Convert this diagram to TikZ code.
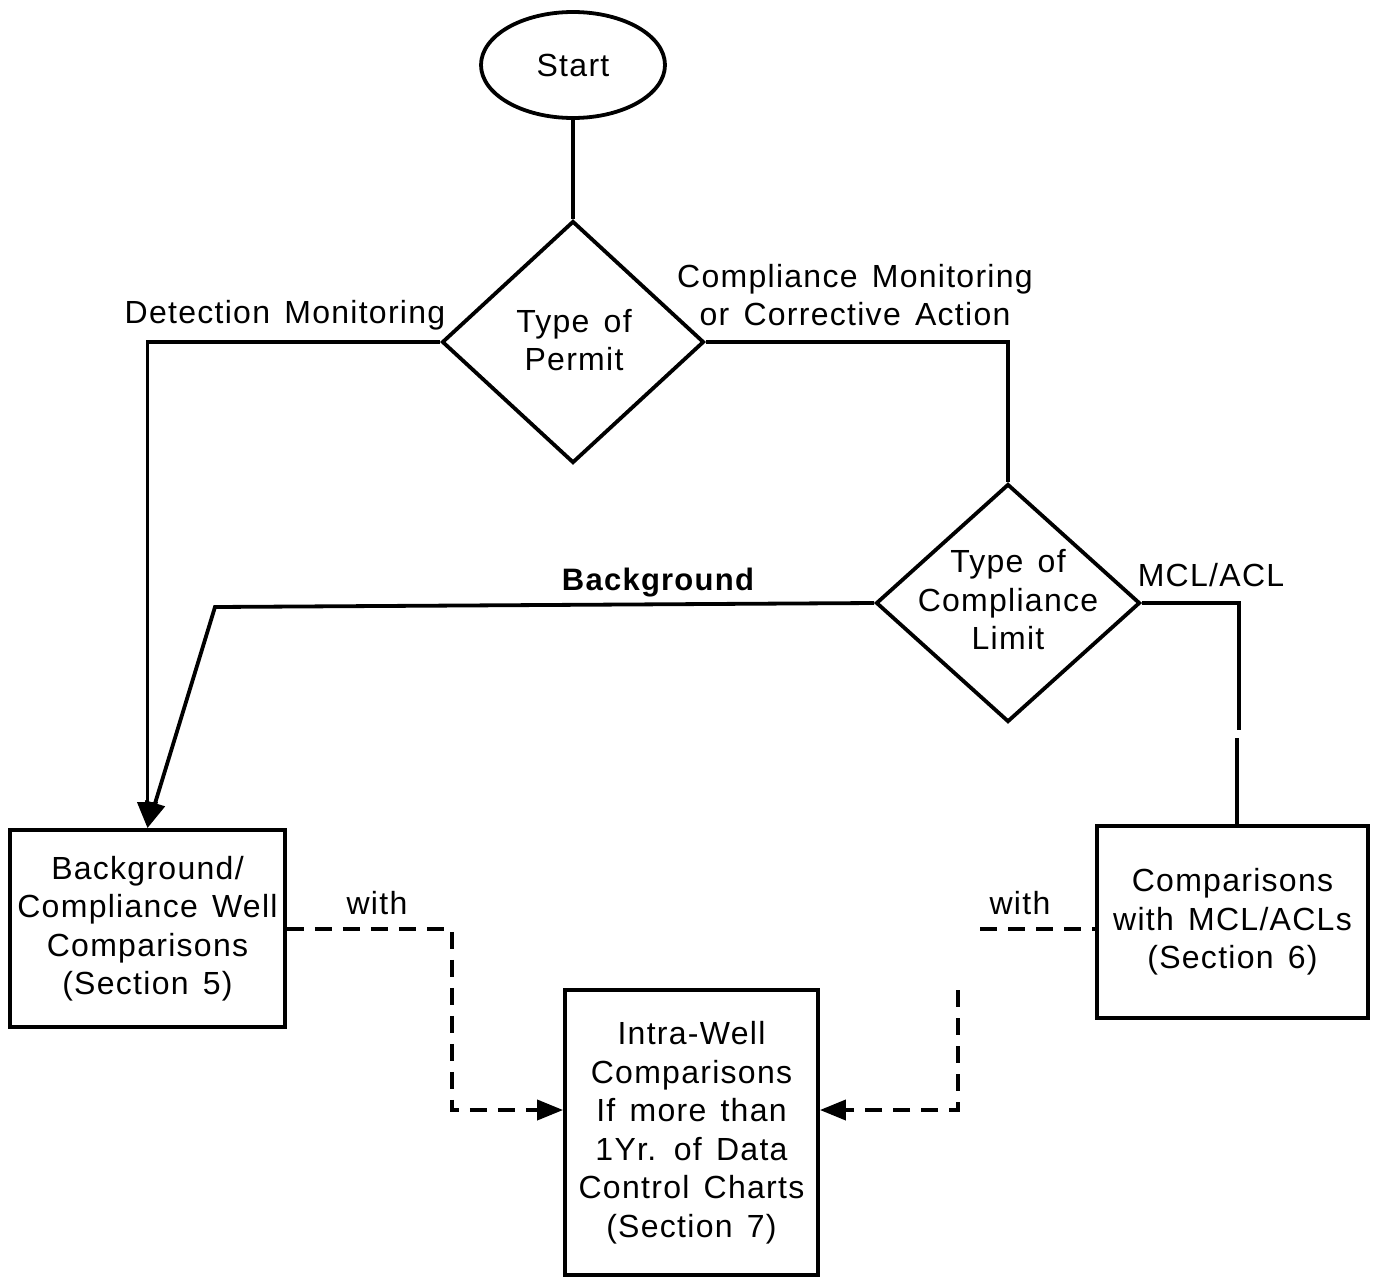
\documentclass[tikz,border=0pt]{standalone}
\usepackage{fontspec}
\setmainfont{Liberation Sans}[LetterSpace=4,WordSpace=1.4]
\usetikzlibrary{shapes.geometric,arrows.meta}
\begin{document}
\begin{tikzpicture}[x=1pt,y=-1pt,
  every node/.style={font=\fontsize{32}{38.5}\selectfont},
  ln/.style={line width=3.8pt},
  boxnode/.style={draw,line width=3.8pt,inner sep=0pt,align=center},
  diam/.style={draw,diamond,line width=3.8pt,inner sep=0pt},
  txt/.style={align=center,inner sep=0pt},
  arr/.style={-{Triangle[length=26pt,width=20pt]}},
  dsh/.style={line width=3.8pt,dash pattern=on 17pt off 11pt}]
\useasboundingbox (0,0) rectangle (1377,1277);
% nodes
\node[draw,ellipse,line width=3.8pt,minimum width=184pt,minimum height=106pt,inner sep=0pt] (start) at (573,65) {Start};
\node[diam,minimum width=262pt,minimum height=242pt] (d1) at (573,342) {};
\node[txt] (d1t) at (574,340) {Type of\\Permit};
\node[diam,minimum width=264pt,minimum height=238pt] (d2) at (1008,603) {};
\node[txt] (d2t) at (1008,600) {Type of\\Compliance\\Limit};
\node[boxnode,minimum width=275pt,minimum height=197pt] (b1) at (147.5,928.5) {Background/\\Compliance Well\\Comparisons\\(Section 5)};
\node[boxnode,minimum width=253pt,minimum height=285pt] (b2) at (691.5,1132.5) {Intra-Well\\Comparisons\\If more than\\1Yr. of Data\\Control Charts\\(Section 7)};
\node[boxnode,minimum width=271pt,minimum height=192pt] (b3) at (1232.5,922) {Comparisons\\with MCL/ACLs\\(Section 6)};
% labels
\node[txt] (l1) at (285,315) {Detection Monitoring};
\node[txt] (l2) at (855,295) {Compliance Monitoring\\or Corrective Action};
\node[txt,font=\fontsize{31}{38.5}\selectfont\bfseries] (l3) at (658,583) {Background};
\node[txt] (l4) at (1211,575) {MCL/ACL};
\node[txt] (l5) at (377,903) {with};
\node[txt] (l6) at (1020,903) {with};
% coordinates
\coordinate (bgk) at (215,607);
\coordinate (mr) at (1239,603);
\coordinate (gapA) at (1239,730);
\coordinate (gapB) at (1237,738);
\coordinate (dl1) at (452,929);
\coordinate (dl2) at (452,1110);
\coordinate (dr1) at (980,929);
\coordinate (dr2) at (958,990);
\coordinate (dr3) at (958,1110);
% connectors
\draw[ln] (start.south) -- (d1.north);
\draw[ln,arr] (d1.west) -| (b1.north);
\draw[ln] (d1.east) -| (d2.north);
\draw[ln,arr] (d2.west) -- (bgk) -- (b1.north);
\draw[ln] (d2.east) -- (mr) -- (gapA);
\draw[ln] (gapB) -- (gapB |- b3.north);
\draw[dsh,arr] (b1.east |- dl1) -- (dl1) -- (dl2) -- (b2.west |- dl2);
\draw[dsh] (dr1) -- (b3.west |- dr1);
\draw[dsh,arr] (dr2) -- (dr3) -- (b2.east |- dr3);
\end{tikzpicture}
\end{document}
